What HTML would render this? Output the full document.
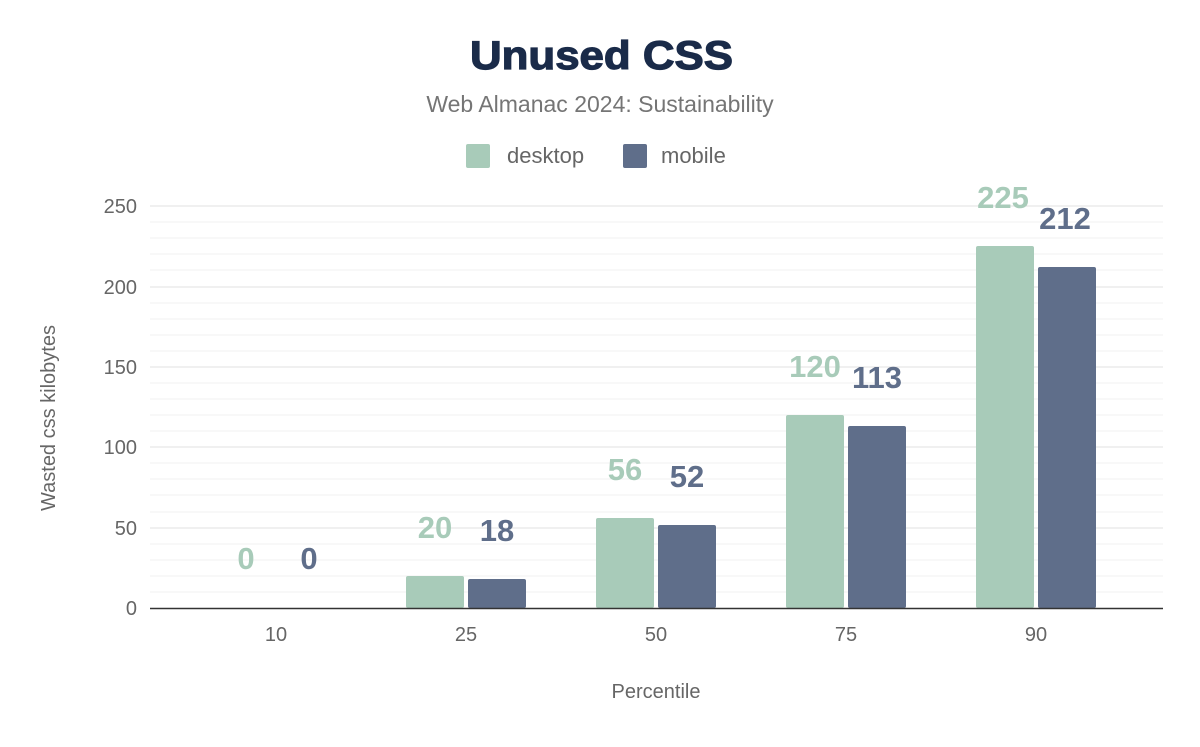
<!DOCTYPE html>
<html><head><meta charset="utf-8"><style>
body{margin:0;background:#fff;}
svg text{font-family:"Liberation Sans",Arial,sans-serif;}
</style></head><body>
<svg width="1200" height="742" viewBox="0 0 1200 742" xmlns="http://www.w3.org/2000/svg">
<rect width="1200" height="742" fill="#fff"/>
<text x="470" y="69" font-size="40" font-weight="bold" fill="#1a2b49" stroke="#1a2b49" stroke-width="1.2" textLength="263" lengthAdjust="spacingAndGlyphs">Unused CSS</text>
<text x="600" y="112" text-anchor="middle" font-size="23" fill="#757575">Web Almanac 2024: Sustainability</text>
<rect x="466" y="144" width="24" height="24" rx="2" fill="#a8cbb9"/>
<text x="507" y="163" font-size="22" fill="#666">desktop</text>
<rect x="623" y="144" width="24" height="24" rx="2" fill="#5f6e8a"/>
<text x="661" y="163" font-size="22" fill="#666">mobile</text>
<g stroke="#f2f2f2" stroke-width="1">
<line x1="150" x2="1163" y1="222" y2="222"/><line x1="150" x2="1163" y1="238" y2="238"/><line x1="150" x2="1163" y1="254" y2="254"/><line x1="150" x2="1163" y1="270" y2="270"/>
<line x1="150" x2="1163" y1="303" y2="303"/><line x1="150" x2="1163" y1="319" y2="319"/><line x1="150" x2="1163" y1="335" y2="335"/><line x1="150" x2="1163" y1="351" y2="351"/>
<line x1="150" x2="1163" y1="383" y2="383"/><line x1="150" x2="1163" y1="399" y2="399"/><line x1="150" x2="1163" y1="415" y2="415"/><line x1="150" x2="1163" y1="431" y2="431"/>
<line x1="150" x2="1163" y1="463" y2="463"/><line x1="150" x2="1163" y1="479" y2="479"/><line x1="150" x2="1163" y1="495" y2="495"/><line x1="150" x2="1163" y1="512" y2="512"/>
<line x1="150" x2="1163" y1="544" y2="544"/><line x1="150" x2="1163" y1="560" y2="560"/><line x1="150" x2="1163" y1="576" y2="576"/><line x1="150" x2="1163" y1="592" y2="592"/>
</g>
<g stroke="#e0e0e0" stroke-width="1">
<line x1="150" x2="1163" y1="206" y2="206"/><line x1="150" x2="1163" y1="287" y2="287"/><line x1="150" x2="1163" y1="367" y2="367"/><line x1="150" x2="1163" y1="447" y2="447"/><line x1="150" x2="1163" y1="528" y2="528"/>
</g>
<g font-size="20" fill="#666" text-anchor="end">
<text x="137" y="213">250</text><text x="137" y="294">200</text><text x="137" y="374">150</text><text x="137" y="454">100</text><text x="137" y="535">50</text><text x="137" y="615">0</text>
</g>
<text transform="translate(55,418) rotate(-90)" text-anchor="middle" font-size="20" fill="#666">Wasted css kilobytes</text>
<g fill="#a8cbb9">
<rect x="406" y="576" width="58" height="32" rx="2"/>
<rect x="596" y="518" width="58" height="90" rx="2"/>
<rect x="786" y="415" width="58" height="193" rx="2"/>
<rect x="976" y="246" width="58" height="362" rx="2"/>
</g>
<g fill="#5f6e8a">
<rect x="468" y="579" width="58" height="29" rx="2"/>
<rect x="658" y="525" width="58" height="83" rx="2"/>
<rect x="848" y="426" width="58" height="182" rx="2"/>
<rect x="1038" y="267" width="58" height="341" rx="2"/>
</g>
<line x1="150" x2="1163" y1="608.5" y2="608.5" stroke="#333" stroke-width="1.5"/>
<g font-size="31" font-weight="bold" text-anchor="middle">
<g fill="#a8cbb9"><text x="246" y="569">0</text><text x="435" y="538">20</text><text x="625" y="480">56</text><text x="815" y="377">120</text><text x="1003" y="208">225</text></g>
<g fill="#5f6e8a"><text x="309" y="569">0</text><text x="497" y="541">18</text><text x="687" y="487">52</text><text x="877" y="388">113</text><text x="1065" y="229">212</text></g>
</g>
<g font-size="20" fill="#666" text-anchor="middle">
<text x="276" y="641">10</text><text x="466" y="641">25</text><text x="656" y="641">50</text><text x="846" y="641">75</text><text x="1036" y="641">90</text>
</g>
<text x="656" y="698" text-anchor="middle" font-size="20" fill="#666">Percentile</text>
</svg>
</body></html>
